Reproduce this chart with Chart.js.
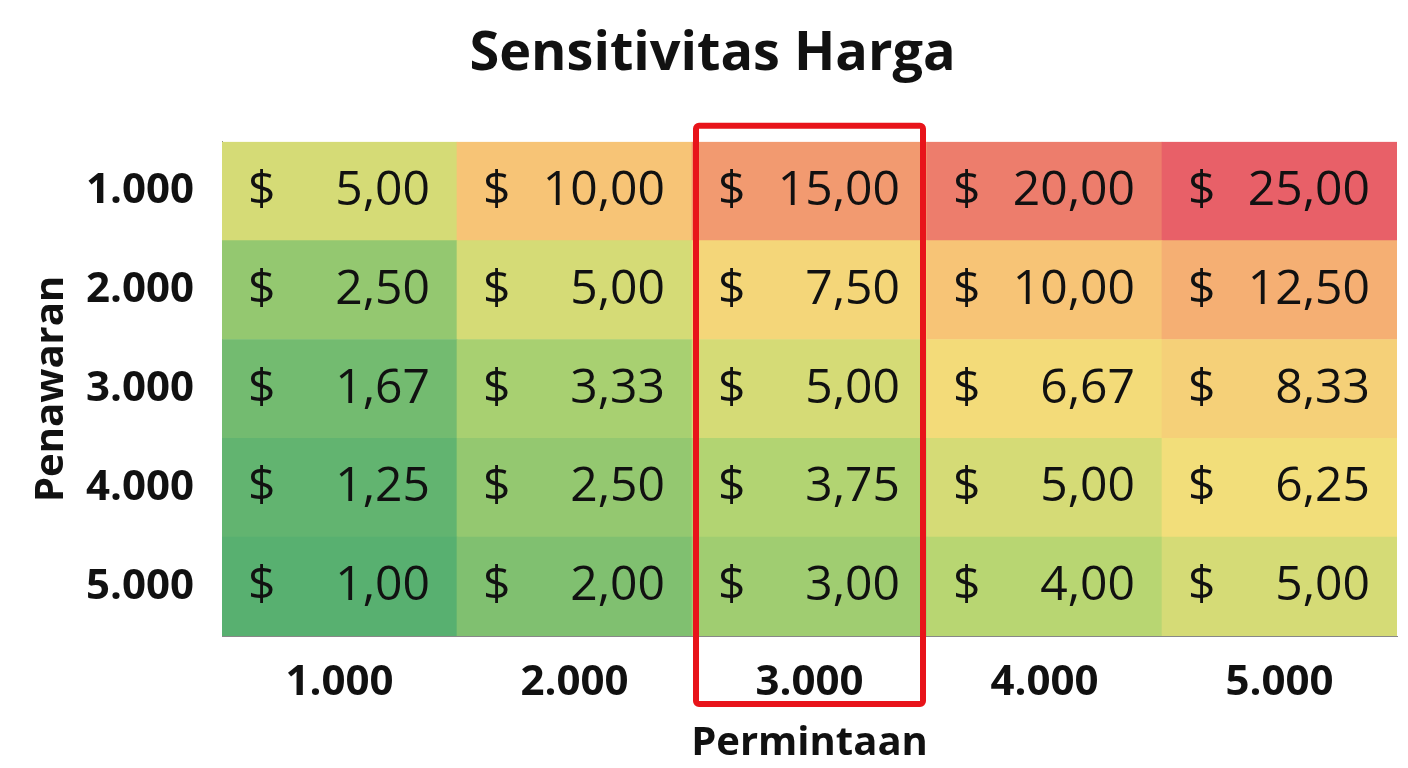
<!DOCTYPE html>
<html>
<head>
<meta charset="utf-8">
<script src="https://cdn.jsdelivr.net/npm/chart.js@4.4.1/dist/chart.umd.min.js"></script>
<style>
  html, body { margin: 0; padding: 0; background: #ffffff; }
  #wrap { width: 1408px; height: 768px; }
</style>
</head>
<body>
<div id="wrap"><canvas id="heatmap"></canvas></div>
<script>
// Permintaan (kolom) dan Penawaran (baris)
var permintaan = ["1.000", "2.000", "3.000", "4.000", "5.000"];
var penawaran = ["1.000", "2.000", "3.000", "4.000", "5.000"];

// Harga per sel, baris = penawaran (atas ke bawah)
var harga1000 = [5.00, 10.00, 15.00, 20.00, 25.00];
var harga2000 = [2.50, 5.00, 7.50, 10.00, 12.50];
var harga3000 = [1.67, 3.33, 5.00, 6.67, 8.33];
var harga4000 = [1.25, 2.50, 3.75, 5.00, 6.25];
var harga5000 = [1.00, 2.00, 3.00, 4.00, 5.00];
var hargaRows = [harga1000, harga2000, harga3000, harga4000, harga5000];

var kolomSorot = 2; // kolom 3.000 diberi kotak merah

// Skala warna hijau -> kuning -> merah
var stops = [
    [1, [88, 176, 112]],
    [2.5, [148, 200, 112]],
    [4, [184, 214, 114]],
    [6, [242, 224, 122]],
    [10, [247, 196, 118]],
    [15, [242, 154, 112]],
    [25, [232, 96, 104]]
];
function warna(v) {
    for (var i = 1; i < stops.length; i++) {
        if (v <= stops[i][0]) {
            var a = stops[i - 1], b = stops[i];
            var t = (v - a[0]) / (b[0] - a[0]);
            var c = a[1].map(function (x, k) { return Math.round(x + (b[1][k] - x) * t); });
            return "rgb(" + c.join(",") + ")";
        }
    }
    return "rgb(232,96,104)";
}

function fmt(v) {
    return v.toFixed(2).replace(".", ",");
}

// Dataset per baris: baris paling bawah ditumpuk pertama
var datasets = [];
for (var r = hargaRows.length - 1; r >= 0; r--) {
    datasets.push({
        label: penawaran[r],
        data: permintaan.map(function () { return 1; }),
        harga: hargaRows[r],
        backgroundColor: hargaRows[r].map(warna),
        borderWidth: 0,
        barPercentage: 1,
        categoryPercentage: 1
    });
}

var labelSel = {
    id: "labelSel",
    afterDatasetsDraw: function (chart) {
        var ctx = chart.ctx;
        ctx.save();
        ctx.fillStyle = "#111";
        ctx.font = "48px 'Open Sans'";
        ctx.textBaseline = "middle";
        chart.data.datasets.forEach(function (ds, di) {
            chart.getDatasetMeta(di).data.forEach(function (bar, i) {
                var half = bar.width / 2;
                var y = (bar.y + bar.base) / 2;
                ctx.textAlign = "left";
                ctx.fillText("$", bar.x - half + 26, y);
                ctx.textAlign = "right";
                ctx.fillText(fmt(ds.harga[i]), bar.x + half - 27, y);
            });
        });
        ctx.restore();
    }
};

var kotakMerah = {
    id: "kotakMerah",
    afterDraw: function (chart) {
        var bar = chart.getDatasetMeta(0).data[kolomSorot];
        var ctx = chart.ctx;
        ctx.save();
        ctx.strokeStyle = "#e8141a";
        ctx.lineWidth = 6;
        ctx.beginPath();
        ctx.roundRect(bar.x - bar.width / 2 + 4, chart.chartArea.top - 16, bar.width - 8, chart.chartArea.bottom - chart.chartArea.top + 84, 3);
        ctx.stroke();
        ctx.restore();
    }
};

var ctx = document.getElementById("heatmap").getContext("2d");
new Chart(ctx, {
    type: "bar",
    data: { labels: permintaan, datasets: datasets },
    plugins: [labelSel, kotakMerah],
    options: {
        responsive: true,
        maintainAspectRatio: false,
        animation: false,
        layout: { padding: { top: 20, right: 11, left: 28, bottom: 0 } },
        plugins: {
            legend: { display: false },
            tooltip: { enabled: false },
            title: {
                display: true,
                text: "Sensitivitas Harga",
                color: "#111",
                font: { family: "'Open Sans'", size: 54, weight: "bold" },
                padding: { top: 2, bottom: 55 }
            }
        },
        scales: {
            x: {
                stacked: true,
                grid: { display: false },
                border: { display: true, color: "#888", width: 1 },
                ticks: {
                    color: "#111",
                    padding: 14,
                    font: { family: "'Open Sans'", size: 42, weight: "bold" }
                },
                title: {
                    display: true,
                    text: "Permintaan",
                    color: "#111",
                    padding: { top: 0, bottom: 0 },
                    font: { family: "'Open Sans'", size: 40, weight: "bold" }
                },
                afterFit: function (scale) { scale.height = 132; }
            },
            y: {
                stacked: true,
                min: 0,
                max: 5,
                grid: { display: false },
                border: { display: true, color: "#888", width: 1 },
                afterBuildTicks: function (scale) {
                    scale.ticks = [0.5, 1.5, 2.5, 3.5, 4.5].map(function (v) { return { value: v }; });
                },
                ticks: {
                    color: "#111",
                    padding: 20,
                    font: { family: "'Open Sans'", size: 42, weight: "bold" }
                    ,
                    callback: function (v) {
                        return penawaran[4 - Math.floor(v)];
                    }
                },
                title: {
                    display: true,
                    text: "Penawaran",
                    color: "#111",
                    padding: { top: 0, bottom: 0 },
                    font: { family: "'Open Sans'", size: 40, weight: "bold" }
                },
                afterFit: function (scale) { scale.width = 194; }
            }
        }
    }
});
</script>
</body>
</html>
